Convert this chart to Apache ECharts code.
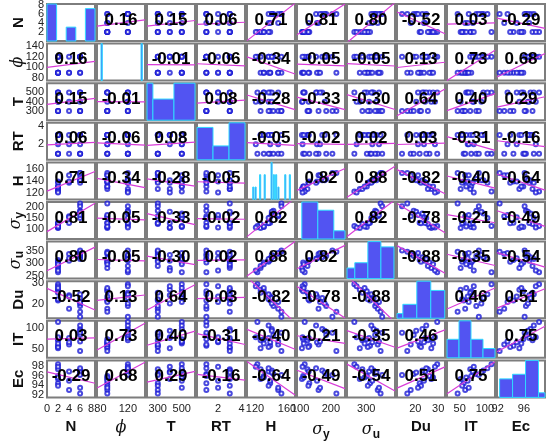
<!DOCTYPE html>
<html>
<head>
<meta charset="utf-8">
<script src="https://cdn.jsdelivr.net/npm/echarts@6/dist/echarts.min.js"></script>
<style>
  html, body { margin: 0; padding: 0; background: #fff; }
  #chart { width: 550px; height: 444px; }
</style>
</head>
<body>
<div id="chart"></div>
<script>
// observations (18 runs), one array per variable
var N   = [2, 2, 2, 2, 2, 2, 2, 2, 4, 4, 4, 6, 6, 6, 6, 6, 6, 6];
var phi = [90, 90, 90, 120, 120, 90, 120, 90, 90, 120, 90, 120, 120, 90, 120, 120, 90, 120];
var T   = [300, 400, 500, 300, 500, 300, 400, 500, 300, 400, 500, 300, 500, 300, 500, 400, 500, 300];
var RT  = [1, 3, 1, 3, 1, 3, 2, 3, 1, 3, 2, 1, 3, 3, 1, 3, 2, 1];
var H   = [139, 127, 131, 127, 123, 137, 121, 131, 149, 137, 139, 143, 141, 153, 137, 141, 149, 153];
var sy  = [130, 106, 110, 124, 115, 127, 108, 112, 160, 128, 155, 185, 172, 218, 152, 180, 165, 205];
var su  = [312, 280, 302, 288, 263, 305, 270, 295, 336, 309, 319, 328, 323, 345, 316, 332, 340, 350];
var Du  = [21.9, 27.0, 26.2, 25.5, 29.6, 22.5, 28.6, 27.8, 18.0, 24.3, 23.8, 19.3, 23.1, 16.5, 24.8, 20.4, 21.2, 14.2];
var IT  = [58, 52, 73, 71, 113, 55, 78, 63, 61, 76, 66, 83, 97, 46, 105, 93, 68, 88];
var Ec  = [94.4, 95.3, 95.9, 97.3, 98.3, 93.9, 97.8, 95.6, 93.0, 96.8, 94.9, 96.3, 97.0, 92.3, 97.5, 96.6, 93.5, 96.1];

var varNames = ['N', '{p|ϕ}', 'T', 'RT', 'H', '{p|σ}{s|y}', '{p|σ}{s|u}', 'Du', 'IT', 'Ec'];

// correlation coefficients printed in the cells (upper triangle, row by row)
var rUpper = [
  [0.16, 0.15, 0.06, 0.71, 0.81, 0.80, -0.52, 0.03, -0.29],
  [-0.01, -0.06, -0.34, -0.05, -0.05, 0.13, 0.73, 0.68],
  [0.08, -0.28, -0.33, -0.30, 0.64, 0.40, 0.29],
  [-0.05, -0.02, 0.02, 0.03, -0.31, -0.16],
  [0.82, 0.88, -0.82, -0.40, -0.64],
  [0.82, -0.78, -0.21, -0.49],
  [-0.88, -0.35, -0.54],
  [0.46, 0.51],
  [0.75]
];

// axis limits and tick labels
var xMin = [0, 75, 210, 0.2, 110, 90, 240, 12, 25, 91.9];
var xMax = [8.7, 145, 610, 4.3, 170, 246, 390, 33, 120, 99.2];
var yMin = [0, 75, 200, 0.35, 110, 55, 238, 13.5, 30, 91.5];
var yMax = [8.2, 145, 600, 4.3, 170, 225, 386, 31, 116, 99.1];
var xTicks = [[0, 2, 4, 6, 8], [80, 120], [300, 500], [2, 4], [120, 160], [100, 200], [300], [20, 30], [50, 100], [92, 96]];
var yTicks = [[2, 4, 6, 8], [80, 100, 120, 140], [300, 400, 500], [2, 4], [120, 140, 160], [100, 150, 200], [250, 300, 350], [20, 30], [50, 100], [92, 94, 96, 98]];

// histogram bins on the diagonal
var histEdges = [
  [1.5, 2.5, 3.5, 4.5, 5.5, 6.5],
  null,                      // phi: unit bins 87..123
  [300, 400, 500, 600],
  [0.5, 1.5, 2.5, 3.5],
  null,                      // H: unit bins 116..158
  [100, 150, 200, 250],
  [250, 275, 300, 325, 350],
  [10, 15, 20, 25, 30],
  [40, 60, 80, 100, 120],
  [92, 94, 96, 98, 100]
];
var histMin = [1.5, 87, 372, 0.5, 116, 85, 260, 12.9, 40, 91.6];
var histMax = [6.5, 123, 600, 3.5, 158, 235, 352, 30.1, 120, 99.0];

(function (echarts) {
  var cols = [N, phi, T, RT, H, sy, su, Du, IT, Ec];
  function steps(a, b, s) { var e = []; for (var v = a; v <= b + 1e-9; v += s) e.push(v); return e; }
  histEdges[1] = steps(histMin[1], histMax[1], 1);
  histEdges[4] = steps(histMin[4], histMax[4], 1);

  function corr(i, j) { var a = Math.min(i, j), b = Math.max(i, j); return rUpper[a][b - a - 1]; }
  function mean(a) { var s = 0; a.forEach(function (v) { s += v; }); return s / a.length; }
  function sd(a) { var m = mean(a), s = 0; a.forEach(function (v) { s += (v - m) * (v - m); }); return Math.sqrt(s / (a.length - 1)); }
  function histCounts(vals, edges) {
    var c = [];
    for (var b = 0; b < edges.length - 1; b++) c.push(0);
    vals.forEach(function (v) {
      for (var b = 0; b < c.length; b++) {
        var last = b === c.length - 1;
        if (v >= edges[b] && (v < edges[b + 1] || (last && v <= edges[b + 1]))) { c[b]++; break; }
      }
    });
    return c;
  }

  var font = '"Liberation Sans", Arial, sans-serif';
  function nameStyle() {
    return {
      fontFamily: font, fontSize: 15, fontWeight: 'bold', color: '#111',
      rich: {
        p: { fontFamily: '"DejaVu Serif", serif', fontStyle: 'italic', fontWeight: 'normal', fontSize: 16, color: '#111' },
        s: { fontFamily: font, fontSize: 12, fontWeight: 'bold', color: '#111', padding: [9, 0, 0, 0] }
      }
    };
  }
  function renderBar(params, api) {
    var p0 = api.coord([api.value(0), api.value(2)]);
    var p1 = api.coord([api.value(1), 0]);
    var cs = params.coordSys;
    var x0 = Math.max(p0[0], cs.x), x1 = Math.min(p1[0], cs.x + cs.width);
    if (x1 <= x0) return null;
    return { type: 'rect', shape: { x: x0, y: p0[1], width: x1 - x0, height: p1[1] - p0[1] },
      style: { fill: '#5254f2', stroke: '#2fd9ff', lineWidth: 1 } };
  }

  var grids = [], xAxes = [], yAxes = [], series = [], texts = [];
  var labelX = [], labelY = [];
  var cellW = 48, cellH = 37;

  for (var i = 0; i < 10; i++) {
    for (var j = 0; j < 10; j++) {
      var g = grids.length;
      var cellLeft = 47 + 50 * j, cellTop = 4 + 39.6 * i;
      grids.push({ left: cellLeft, top: cellTop, width: cellW, height: cellH, show: true,
        borderColor: '#7d7d7d', borderWidth: 2, backgroundColor: '#fff' });

      var xa = {
        type: 'value', gridIndex: g, min: xMin[j], max: xMax[j],
        axisLine: { show: false }, axisTick: { show: false }, splitLine: { show: false },
        axisLabel: { show: false }
      };
      var ya = {
        type: 'value', gridIndex: g, min: yMin[i], max: yMax[i],
        axisLine: { show: false }, axisTick: { show: false }, splitLine: { show: false },
        axisLabel: { show: false }
      };
      if (i === 9) { xa.name = varNames[j]; xa.nameLocation = 'middle'; xa.nameGap = 22; xa.nameTextStyle = nameStyle(); }
      if (j === 0) { ya.name = varNames[i]; ya.nameLocation = 'middle'; ya.nameGap = 21; ya.nameRotate = 90; ya.nameTextStyle = nameStyle(); }
      var xi = xAxes.length; xAxes.push(xa);
      var yi = yAxes.length; yAxes.push(ya);
      if (i === 9) labelX.push([xi, j, cellLeft]);
      if (j === 0) labelY.push([yi, i, cellTop]);

      if (i === j) {
        var counts = histCounts(cols[i], histEdges[i]);
        var hx = xAxes.length;
        xAxes.push({ type: 'value', gridIndex: g, show: false, position: 'top', min: histMin[i], max: histMax[i], splitLine: { show: false } });
        var hy = yAxes.length;
        yAxes.push({ type: 'value', gridIndex: g, show: false, position: 'right', min: 0, max: Math.max.apply(null, counts), splitLine: { show: false } });
        var bars = [];
        for (var b = 0; b < counts.length; b++) if (counts[b] > 0) bars.push([histEdges[i][b], histEdges[i][b + 1], counts[b]]);
        series.push({ type: 'custom', xAxisIndex: hx, yAxisIndex: hy, data: bars, silent: true,
          encode: { x: [0, 1], y: 2 }, renderItem: renderBar });
      } else {
        var xs = cols[j], ys = cols[i];
        var pts = [];
        for (var k = 0; k < xs.length; k++) pts.push([xs[k], ys[k]]);
        series.push({ type: 'scatter', xAxisIndex: xi, yAxisIndex: yi, data: pts, silent: true,
          symbol: 'emptyCircle', symbolSize: 4, itemStyle: { color: '#1c1cd6', borderWidth: 0.9 } });
        // least-squares line drawn with the printed r
        var r = corr(i, j);
        var mx = mean(xs), my = mean(ys), slope = r * sd(ys) / sd(xs);
        series.push({ type: 'line', xAxisIndex: xi, yAxisIndex: yi, silent: true, showSymbol: false,
          data: [[xMin[j], my + slope * (xMin[j] - mx)], [xMax[j], my + slope * (xMax[j] - mx)]],
          lineStyle: { color: '#d83cd8', width: 1.2 } });
        texts.push({ type: 'text', x: cellLeft + cellW / 2, y: cellTop + 16, z: 100, silent: true,
          style: { text: r.toFixed(2), font: 'bold 17px ' + font, fill: '#000', textAlign: 'center', textVerticalAlign: 'middle' } });
      }
    }
  }

  var chart = echarts.init(document.getElementById('chart'));
  chart.setOption({
    backgroundColor: '#fff',
    animation: false,
    grid: grids,
    xAxis: xAxes,
    yAxis: yAxes,
    series: series,
    graphic: { elements: texts }
  });

  // tick labels placed through the axes' own scales, all shown (they overlap like the original)
  function toPx(finder, v, lo, hi, p0, len, flip) {
    var p = chart.convertToPixel(finder, v);
    if (typeof p !== 'number' || !isFinite(p)) {
      var f = (v - lo) / (hi - lo);
      p = flip ? p0 + len * (1 - f) : p0 + len * f;
    }
    return p;
  }
  var tickTexts = [];
  labelX.forEach(function (q) {
    xTicks[q[1]].forEach(function (v) {
      var px = toPx({ xAxisIndex: q[0] }, v, xMin[q[1]], xMax[q[1]], q[2], cellW, false);
      tickTexts.push({ type: 'text', x: px, y: 403, silent: true,
        style: { text: String(v), font: '11px ' + font, fill: '#222', textAlign: 'center', textVerticalAlign: 'top' } });
    });
  });
  labelY.forEach(function (q) {
    yTicks[q[1]].forEach(function (v) {
      var py = toPx({ yAxisIndex: q[0] }, v, yMin[q[1]], yMax[q[1]], q[2], cellH, true);
      tickTexts.push({ type: 'text', x: 44, y: py, silent: true,
        style: { text: String(v), font: '11px ' + font, fill: '#222', textAlign: 'right', textVerticalAlign: 'middle' } });
    });
  });
  chart.setOption({ graphic: { elements: texts.concat(tickTexts) } });
})(echarts);
</script>
</body>
</html>
